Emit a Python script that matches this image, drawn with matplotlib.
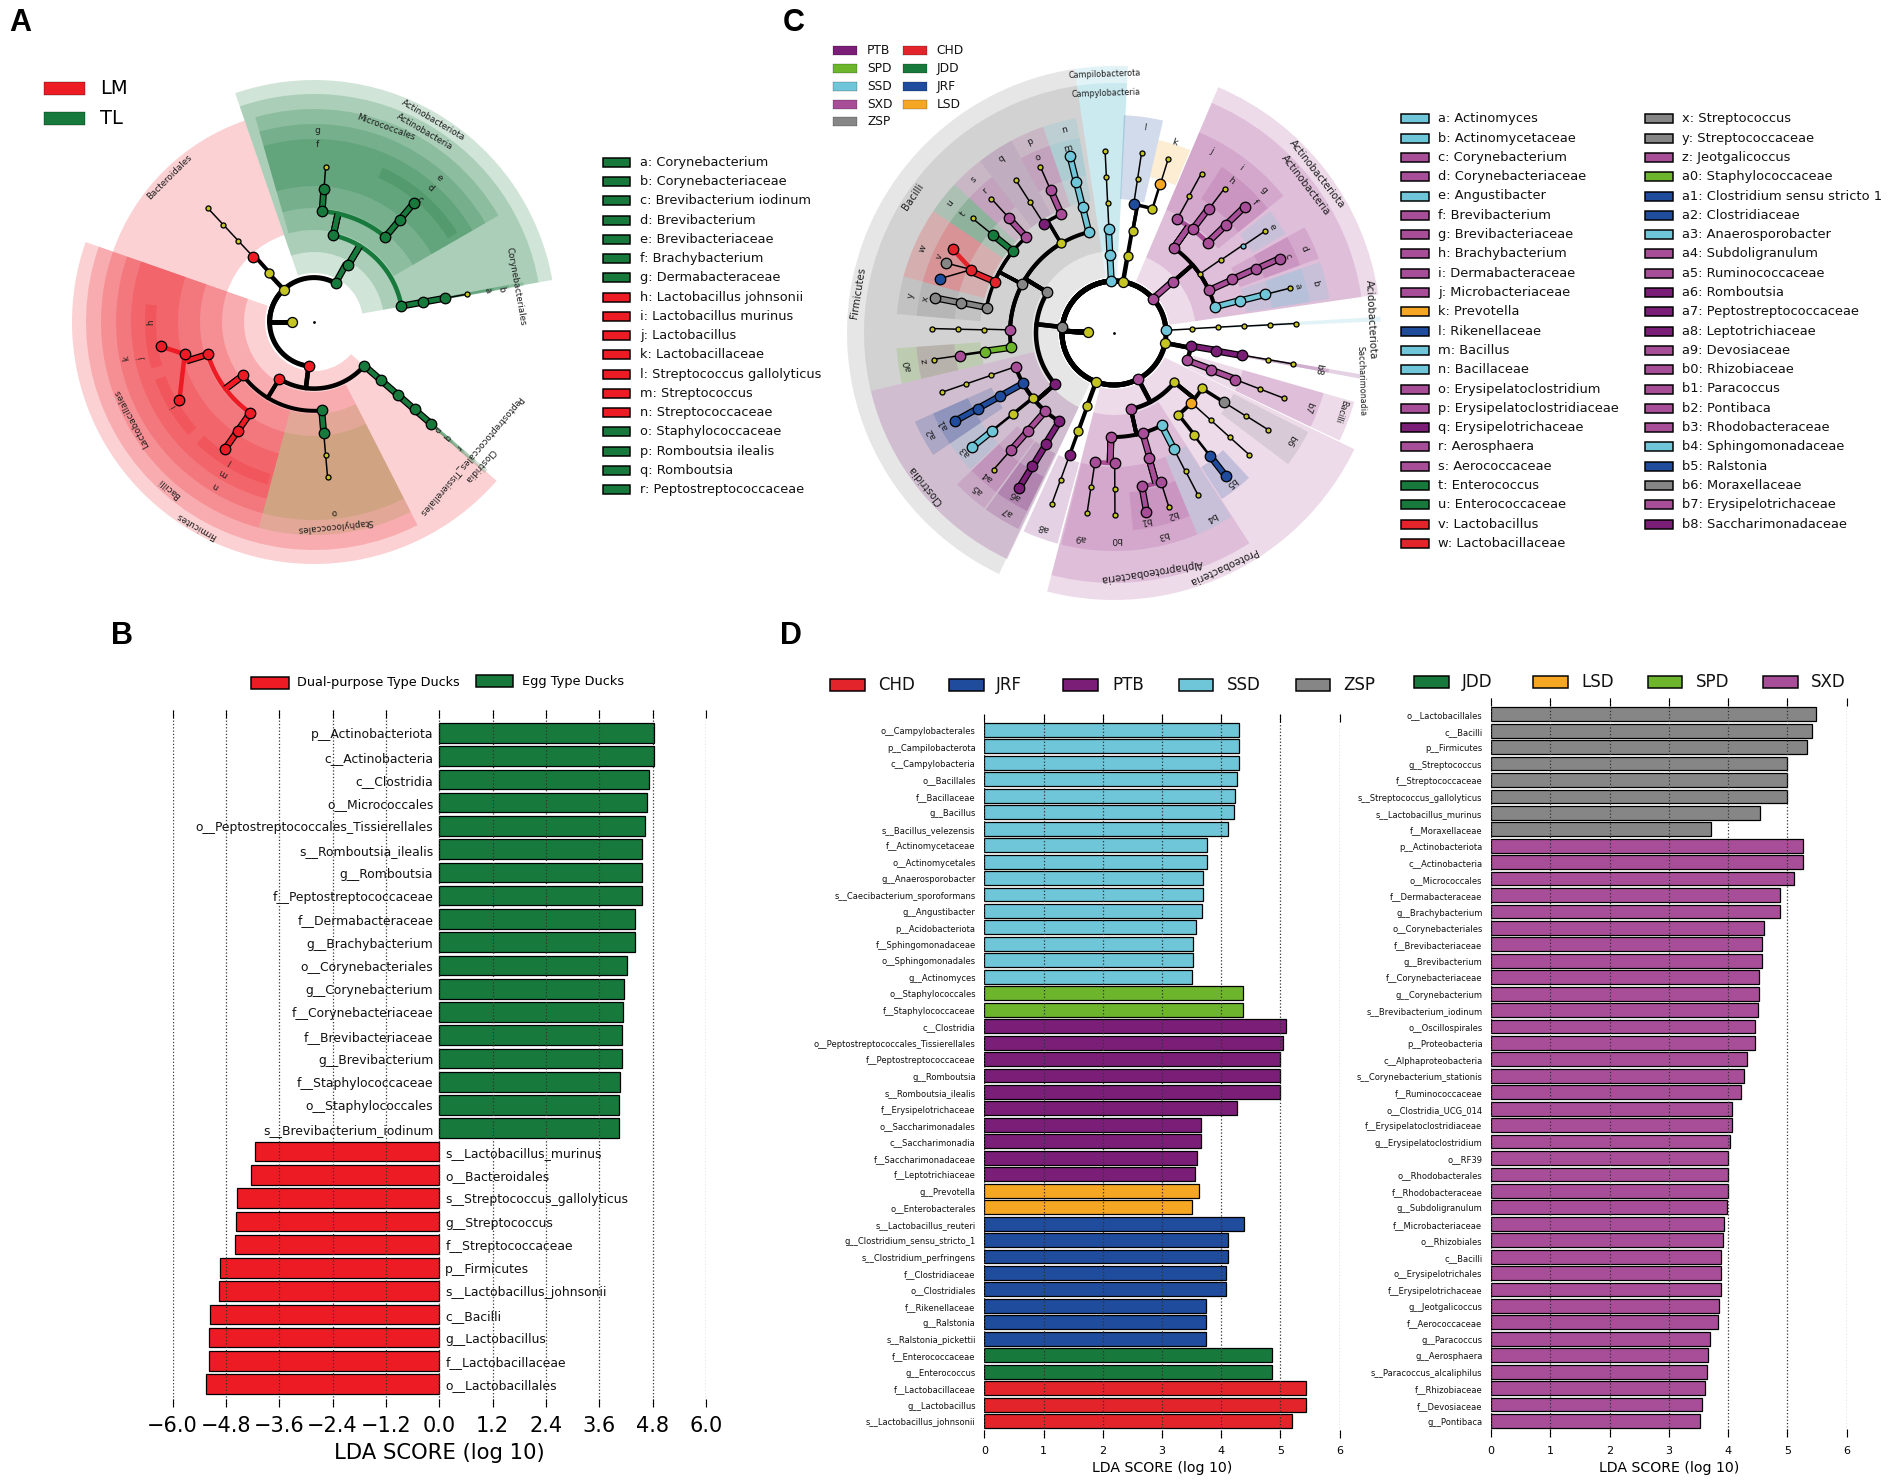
## Functions ##
import numpy as np
import matplotlib
matplotlib.use('Agg')
import matplotlib.pyplot as plt
from matplotlib.patches import Wedge, Rectangle

W, H = 1904, 1483

colors = {'LM': '#ed1c24', 'TL': '#177a3c', 'PTB': '#7b1e78', 'SPD': '#6db52d', 'SSD': '#6fc6d8',
          'SXD': '#a84e98', 'ZSP': '#868686', 'CHD': '#e3242b', 'JDD': '#177a3c', 'JRF': '#1f4c9c',
          'LSD': '#f5a623', 'Y': '#c4c422', 'y': '#c4c422', 'ssd': '#6fc6d8', 'mix': '#8a9636'}

# Panel B
b_names = ['p__Actinobacteriota', 'c__Actinobacteria', 'c__Clostridia', 'o__Micrococcales',
           'o__Peptostreptococcales_Tissierellales', 's__Romboutsia_ilealis', 'g__Romboutsia',
           'f__Peptostreptococcaceae', 'f__Dermabacteraceae', 'g__Brachybacterium', 'o__Corynebacteriales',
           'g__Corynebacterium', 'f__Corynebacteriaceae', 'f__Brevibacteriaceae', 'g__Brevibacterium',
           'f__Staphylococcaceae', 'o__Staphylococcales', 's__Brevibacterium_iodinum',
           's__Lactobacillus_murinus', 'o__Bacteroidales', 's__Streptococcus_gallolyticus', 'g__Streptococcus',
           'f__Streptococcaceae', 'p__Firmicutes', 's__Lactobacillus_johnsonii', 'c__Bacilli', 'g__Lactobacillus',
           'f__Lactobacillaceae', 'o__Lactobacillales']
b_values = [4.84, 4.83, 4.71, 4.67, 4.63, 4.57, 4.57, 4.56, 4.40, 4.40, 4.23, 4.15, 4.14, 4.10, 4.10, 4.06, 4.05,
            4.04, -4.14, -4.24, -4.56, -4.58, -4.59, -4.94, -4.95, -5.16, -5.18, -5.19, -5.24]
b_ticks = [-6.0, -4.8, -3.6, -2.4, -1.2, 0.0, 1.2, 2.4, 3.6, 4.8, 6.0]

# Panel D, left
d1_names = ['o__Campylobacterales', 'p__Campilobacterota', 'c__Campylobacteria', 'o__Bacillales', 'f__Bacillaceae',
            'g__Bacillus', 's__Bacillus_velezensis', 'f__Actinomycetaceae', 'o__Actinomycetales',
            'g__Anaerosporobacter', 's__Caecibacterium_sporoformans', 'g__Angustibacter', 'p__Acidobacteriota',
            'f__Sphingomonadaceae', 'o__Sphingomonadales', 'g__Actinomyces', 'o__Staphylococcales',
            'f__Staphylococcaceae', 'c__Clostridia', 'o__Peptostreptococcales_Tissierellales',
            'f__Peptostreptococcaceae', 'g__Romboutsia', 's__Romboutsia_ilealis', 'f__Erysipelotrichaceae',
            'o__Saccharimonadales', 'c__Saccharimonadia', 'f__Saccharimonadaceae', 'f__Leptotrichiaceae',
            'g__Prevotella', 'o__Enterobacterales', 's__Lactobacillus_reuteri', 'g__Clostridium_sensu_stricto_1',
            's__Clostridium_perfringens', 'f__Clostridiaceae', 'o__Clostridiales', 'f__Rikenellaceae', 'g__Ralstonia',
            's__Ralstonia_pickettii', 'f__Enterococcaceae', 'g__Enterococcus', 'f__Lactobacillaceae',
            'g__Lactobacillus', 's__Lactobacillus_johnsonii']
d1_values = [4.30, 4.30, 4.30, 4.27, 4.23, 4.22, 4.11, 3.76, 3.76, 3.70, 3.70, 3.68, 3.58, 3.53, 3.53, 3.50,
             4.37, 4.37, 5.10, 5.04, 5.00, 4.99, 4.99, 4.27, 3.66, 3.66, 3.60, 3.55, 3.63, 3.51,
             4.39, 4.12, 4.12, 4.09, 4.09, 3.75, 3.75, 3.75, 4.86, 4.86, 5.44, 5.44, 5.20]
d1_groups = ['SSD'] * 16 + ['SPD'] * 2 + ['PTB'] * 10 + ['LSD'] * 2 + ['JRF'] * 8 + ['JDD'] * 2 + ['CHD'] * 3

# Panel D, right
d2_names = ['o__Lactobacillales', 'c__Bacilli', 'p__Firmicutes', 'g__Streptococcus', 'f__Streptococcaceae',
            's__Streptococcus_gallolyticus', 's__Lactobacillus_murinus', 'f__Moraxellaceae', 'p__Actinobacteriota',
            'c__Actinobacteria', 'o__Micrococcales', 'f__Dermabacteraceae', 'g__Brachybacterium',
            'o__Corynebacteriales', 'f__Brevibacteriaceae', 'g__Brevibacterium', 'f__Corynebacteriaceae',
            'g__Corynebacterium', 's__Brevibacterium_iodinum', 'o__Oscillospirales', 'p__Proteobacteria',
            'c__Alphaproteobacteria', 's__Corynebacterium_stationis', 'f__Ruminococcaceae', 'o__Clostridia_UCG_014',
            'f__Erysipelatoclostridiaceae', 'g__Erysipelatoclostridium', 'o__RF39', 'o__Rhodobacterales',
            'f__Rhodobacteraceae', 'g__Subdoligranulum', 'f__Microbacteriaceae', 'o__Rhizobiales', 'c__Bacilli',
            'o__Erysipelotrichales', 'f__Erysipelotrichaceae', 'g__Jeotgalicoccus', 'f__Aerococcaceae',
            'g__Paracoccus', 'g__Aerosphaera', 's__Paracoccus_alcaliphilus', 'f__Rhizobiaceae', 'f__Devosiaceae',
            'g__Pontibaca']
d2_values = [5.49, 5.42, 5.33, 5.00, 5.00, 4.99, 4.54, 3.72, 5.26, 5.26, 5.12, 4.88, 4.87, 4.60, 4.58, 4.58, 4.53,
             4.53, 4.50, 4.46, 4.45, 4.32, 4.27, 4.22, 4.07, 4.06, 4.04, 4.00, 4.00, 4.00, 3.99, 3.94, 3.91, 3.89,
             3.89, 3.89, 3.84, 3.83, 3.70, 3.67, 3.65, 3.61, 3.56, 3.53]
d2_groups = ['ZSP'] * 8 + ['SXD'] * 36

# Panel A tree: id, parent, level, angle, group
tree_a = [('k', '', 1, 180, 'Y'),
          ('a2', 'k', 2, 61, 'TL'), ('a3', 'a2', 3, 59, 'TL'),
          ('cor4', 'a3', 4, 10.3, 'TL'), ('cor5', 'cor4', 5, 10.3, 'TL'), ('cor6', 'cor5', 6, 10.3, 'TL'),
          ('cor7', 'cor6', 7, 10.3, 'y'),
          ('mic4', 'a3', 4, 77.5, 'TL'), ('der5', 'mic4', 5, 85.8, 'TL'), ('der6', 'der5', 6, 85.7, 'TL'),
          ('der7', 'der6', 7, 85.7, 'y'), ('bre5', 'mic4', 5, 50, 'TL'), ('bre6', 'bre5', 6, 50, 'TL'),
          ('bre7', 'bre6', 7, 50, 'TL'),
          ('bd2', 'k', 2, 133, 'Y'), ('bd3', 'bd2', 3, 132, 'Y'), ('bd4', 'bd3', 4, 133, 'LM'),
          ('bd5', 'bd4', 5, 133, 'y'), ('bd6', 'bd5', 6, 133, 'y'), ('bd7', 'bd6', 7, 133, 'y'),
          ('fi2', 'k', 2, 263, 'LM'), ('ba3', 'fi2', 3, 238.6, 'LM'), ('la4', 'ba3', 4, 217, 'LM'),
          ('lc5', 'la4', 5, 197, 'LM'), ('lc6', 'lc5', 6, 194, 'LM'), ('lj7', 'lc6', 7, 189, 'LM'),
          ('lm7', 'lc6', 7, 210, 'LM'),
          ('st5', 'la4', 5, 235, 'LM'), ('st6', 'st5', 6, 235, 'LM'), ('st7', 'st6', 7, 235, 'LM'),
          ('sa4', 'ba3', 4, 275, 'TL'), ('sa5', 'sa4', 5, 275, 'TL'), ('sa6', 'sa5', 6, 275, 'y'),
          ('sa7', 'sa6', 7, 275, 'y'),
          ('cl3', 'fi2', 3, 319, 'TL'), ('pe4', 'cl3', 4, 319, 'TL'), ('pe5', 'pe4', 5, 319, 'TL'),
          ('ro6', 'pe5', 6, 319, 'TL'), ('ro7', 'ro6', 7, 319, 'TL')]
black_a = ['ba3', 'la4']

# rank, from angle, to angle, group
bands_a = [('p', 160.7, 319, 'LM'), ('c', 160.7, 297, 'LM'), ('o', 160.7, 255, 'LM'), ('f', 160.7, 225, 'LM'),
           ('f', 225, 255, 'LM'), ('g', 160.7, 225, 'LM'), ('g', 225, 255, 'LM'), ('s', 174, 196, 'LM'),
           ('s', 200, 222, 'LM'), ('s', 226, 254, 'LM'), ('o', 109, 160.7, 'LM'),
           ('o', 255, 297, 'mix'), ('f', 255, 297, 'mix'),
           ('p', 10, 109, 'TL'), ('c', 10, 109, 'TL'), ('o', 30, 106, 'TL'), ('f', 30, 68, 'TL'), ('f', 68, 106, 'TL'),
           ('g', 30, 68, 'TL'), ('g', 68, 106, 'TL'), ('s', 32, 66, 'TL'),
           ('c', 318.5, 319.5, 'TL'), ('o', 318.5, 319.5, 'TL'), ('f', 318.5, 319.5, 'TL'), ('g', 318.5, 319.5, 'TL'),
           ('o', 9.8, 10.8, 'TL'), ('f', 9.8, 10.8, 'TL'), ('g', 9.8, 10.8, 'TL')]

# text, radius, angle
labels_a = [('Actinobacteriota', 234, 59.4), ('Actinobacteria', 220, 59.7), ('Micrococcales', 207, 69.8),
            ('Corynebacteriales', 205, 10), ('Bacteroidales', 205, 135), ('Firmicutes', 235, 240), ('Bacilli', 220, 229),
            ('Lactobacillales', 206, 208), ('Staphylococcales', 205, 276), ('Clostridia', 219, 319),
            ('Peptostreptococcales_Tissierellales', 206, 319.5)]
letters_a = [('g', 191, 89), ('f', 177, 89), ('e', 191, 49), ('d', 177, 49), ('c', 162, 49), ('b', 190, 10), ('a', 176, 10.5),
             ('h', 163, 180), ('i', 164, 211), ('j', 176, 192), ('k', 191, 191), ('l', 163, 239), ('m', 176, 239),
             ('n', 191, 239), ('o', 191, 276), ('p', 163, 319), ('q', 176, 319), ('r', 191, 319)]

legend_a = ['a: Corynebacterium', 'b: Corynebacteriaceae', 'c: Brevibacterium iodinum', 'd: Brevibacterium',
            'e: Brevibacteriaceae', 'f: Brachybacterium', 'g: Dermabacteraceae', 'h: Lactobacillus johnsonii',
            'i: Lactobacillus murinus', 'j: Lactobacillus', 'k: Lactobacillaceae', 'l: Streptococcus gallolyticus',
            'm: Streptococcus', 'n: Streptococcaceae', 'o: Staphylococcaceae', 'p: Romboutsia ilealis', 'q: Romboutsia',
            'r: Peptostreptococcaceae']
legend_a_groups = ['TL'] * 7 + ['LM'] * 7 + ['TL'] * 4

# Panel C tree
tree_c = [('k', '', 1, 178, 'Y'),
          ('fi2', 'k', 2, 173.5, 'ZSP'), ('ba3', 'fi2', 3, 148.6, 'ZSP'), ('cl3', 'fi2', 3, 221, 'PTB'),
          ('b4a', 'ba3', 4, 178.3, 'SXD'), ('b4b', 'ba3', 4, 152, 'ZSP'), ('b4c', 'ba3', 4, 120.6, 'Y'),
          ('b4d', 'ba3', 4, 104, 'SSD'), ('b4e', 'ba3', 4, 188, 'SPD'),
          ('b5a', 'b4a', 5, 178.6, 'y'), ('b6a', 'b5a', 6, 178.6, 'y'), ('b7a', 'b6a', 7, 178.6, 'y'),
          ('b5e', 'b4e', 5, 188.2, 'SPD'), ('b6e', 'b5e', 6, 188.3, 'SXD'), ('b7e', 'b6e', 7, 188.4, 'y'),
          ('b5d', 'b4d', 5, 104, 'SSD'), ('b6d', 'b5d', 6, 104, 'SSD'), ('b7d', 'b6d', 7, 104, 'SSD'),
          ('c5a', 'b4c', 5, 122.7, 'PTB'), ('c5b', 'b4c', 5, 113.9, 'SXD'),
          ('c6a', 'c5a', 6, 122.7, 'y'), ('c7a', 'c6a', 7, 122.6, 'y'),
          ('c6b', 'c5b', 6, 113.9, 'SXD'), ('c7b', 'c6b', 7, 114, 'y'),
          ('l5a', 'b4b', 5, 132.5, 'SXD'), ('l6a', 'l5a', 6, 132.4, 'SXD'), ('l7a', 'l6a', 7, 132.5, 'y'),
          ('l5b', 'b4b', 5, 141, 'JDD'), ('l6b', 'l5b', 6, 141, 'JDD'), ('l7b', 'l6b', 7, 141, 'y'),
          ('l5c', 'b4b', 5, 156.7, 'CHD'), ('l6c', 'l5c', 6, 156, 'CHD'), ('l7c', 'l6c', 7, 152.5, 'CHD'),
          ('l7d', 'l6c', 7, 157.4, 'ZSP'), ('l7e', 'l6c', 7, 162.6, 'JRF'),
          ('l5f', 'b4b', 5, 168.7, 'ZSP'), ('l6f', 'l5f', 6, 168.9, 'ZSP'), ('l7f', 'l6f', 7, 168.8, 'ZSP'),
          ('o4a', 'cl3', 4, 198.9, 'SXD'), ('o5a', 'o4a', 5, 199, 'y'), ('o6a', 'o5a', 6, 199, 'y'), ('o7a', 'o6a', 7, 199, 'y'),
          ('o4b', 'cl3', 4, 209, 'JRF'), ('o5b', 'o4b', 5, 209, 'JRF'), ('o6b', 'o5b', 6, 209, 'JRF'), ('o7b', 'o6b', 7, 209, 'JRF'),
          ('o4c', 'cl3', 4, 218.7, 'Y'), ('o5c', 'o4c', 5, 218.7, 'Y'), ('o6c', 'o5c', 6, 218.8, 'SSD'), ('o7c', 'o6c', 7, 218.8, 'SSD'),
          ('o4d', 'cl3', 4, 228.7, 'SXD'), ('o5d', 'o4d', 5, 228.7, 'SXD'), ('o6d', 'o5d', 6, 228.6, 'SXD'), ('o7d', 'o6d', 7, 228.6, 'y'),
          ('o4e', 'cl3', 4, 238.3, 'PTB'), ('o5e', 'o4e', 5, 238.6, 'PTB'), ('o6e', 'o5e', 6, 238.5, 'PTB'), ('o7e', 'o6e', 7, 238.4, 'PTB'),
          ('cm2', 'k', 2, 93, 'SSD'), ('cm3', 'cm2', 3, 93, 'SSD'), ('cm4', 'cm3', 4, 92.8, 'SSD'), ('cm5', 'cm4', 5, 92.8, 'y'),
          ('cm6', 'cm5', 6, 92.8, 'y'), ('cm7', 'cm6', 7, 92.8, 'y'),
          ('bd2', 'k', 2, 80, 'Y'), ('bd3', 'bd2', 3, 80, 'Y'), ('bd4', 'bd3', 4, 79.6, 'Y'),
          ('bd5a', 'bd4', 5, 81.3, 'JRF'), ('bd6a', 'bd5a', 6, 81.3, 'y'), ('bd7a', 'bd6a', 7, 81.3, 'y'),
          ('bd5b', 'bd4', 5, 72.8, 'Y'), ('bd6b', 'bd5b', 6, 72.7, 'LSD'), ('bd7b', 'bd6b', 7, 72.6, 'y'),
          ('ac2', 'k', 2, 41.3, 'SXD'), ('ac3', 'ac2', 3, 41, 'SXD'),
          ('m4', 'ac3', 4, 54.9, 'SXD'), ('m5a', 'm4', 5, 61, 'SXD'), ('m6a', 'm5a', 6, 61.3, 'y'), ('m7a', 'm6a', 7, 61.2, 'y'),
          ('m5b', 'm4', 5, 52.8, 'SXD'), ('m6b', 'm5b', 6, 52.6, 'SXD'), ('m7b', 'm6b', 7, 52.4, 'y'),
          ('m5c', 'm4', 5, 44, 'SXD'), ('m6c', 'm5c', 6, 44, 'SXD'), ('m7c', 'm6c', 7, 43.9, 'SXD'),
          ('g4', 'ac3', 4, 34.5, 'y'), ('g5', 'g4', 5, 34.3, 'y'), ('g6', 'g5', 6, 34, 'ssd'), ('g7', 'g6', 7, 34, 'y'),
          ('co4', 'ac3', 4, 24.2, 'SXD'), ('co5', 'co4', 5, 24.4, 'SXD'), ('co6', 'co5', 6, 24.2, 'SXD'), ('co7', 'co6', 7, 24, 'SXD'),
          ('am4', 'ac3', 4, 14.5, 'SSD'), ('am5', 'am4', 5, 14.3, 'SSD'), ('am6', 'am5', 6, 14.3, 'SSD'), ('am7', 'am6', 7, 14.3, 'y'),
          ('ad2', 'k', 2, 3, 'SSD'), ('ad3', 'ad2', 3, 3.2, 'y'), ('ad4', 'ad3', 4, 3.2, 'y'), ('ad5', 'ad4', 5, 3, 'y'),
          ('ad6', 'ad5', 6, 3, 'y'), ('ad7', 'ad6', 7, 2.7, 'y'),
          ('x2', 'k', 2, 349, 'Y'), ('x3', 'x2', 3, 350.4, 'PTB'), ('x4', 'x3', 4, 350, 'PTB'), ('x5', 'x4', 5, 350.2, 'PTB'),
          ('x6', 'x5', 6, 350.2, 'y'), ('x7', 'x6', 7, 350.2, 'y'),
          ('e3', 'x2', 3, 339.5, 'SXD'), ('e4', 'e3', 4, 339.2, 'SXD'), ('e5', 'e4', 5, 339, 'SXD'), ('e6', 'e5', 6, 339, 'y'), ('e7', 'e6', 7, 339, 'y'),
          ('fu2', 'k', 2, 249.8, 'Y'), ('fu3', 'fu2', 3, 250, 'Y'), ('fu4', 'fu3', 4, 250, 'Y'), ('fu5', 'fu4', 5, 250, 'PTB'),
          ('fu6', 'fu5', 6, 250, 'y'), ('fu7', 'fu6', 7, 250, 'y'),
          ('pr2', 'k', 2, 297.8, 'SXD'), ('pr3', 'pr2', 3, 282.5, 'SXD'), ('pq3', 'pr2', 3, 320.8, 'Y'),
          ('q4a', 'pq3', 4, 327.8, 'Y'), ('q5a', 'q4a', 5, 327.8, 'ZSP'), ('q6a', 'q5a', 6, 327.9, 'y'), ('q7a', 'q6a', 7, 327.9, 'y'),
          ('q4b', 'pq3', 4, 318, 'LSD'), ('q5b', 'q4b', 5, 318, 'y'), ('q6b', 'q5b', 6, 318, 'y'), ('q7b', 'q6b', 7, 318, 'y'),
          ('q4c', 'pq3', 4, 308.3, 'Y'), ('q5c', 'q4c', 5, 308, 'Y'), ('q6c', 'q5c', 6, 308, 'JRF'), ('q7c', 'q6c', 7, 308, 'JRF'),
          ('r4a', 'pr3', 4, 268.3, 'SXD'), ('r5a', 'r4a', 5, 261.6, 'SXD'), ('r6a', 'r5a', 6, 261.5, 'y'), ('r7a', 'r6a', 7, 261.5, 'y'),
          ('r5b', 'r4a', 5, 270.3, 'SXD'), ('r6b', 'r5b', 6, 270.3, 'y'), ('r7b', 'r6b', 7, 270.3, 'y'),
          ('r4b', 'pr3', 4, 286, 'SXD'), ('r5c', 'r4b', 5, 285.6, 'SXD'), ('r6c', 'r5c', 6, 280.3, 'SXD'), ('r7c', 'r6c', 7, 280.2, 'SXD'),
          ('r6d', 'r5c', 6, 287.5, 'SXD'), ('r7d', 'r6d', 7, 287.5, 'y'),
          ('r4c', 'pr3', 4, 297.3, 'SSD'), ('r5d', 'r4c', 5, 297.3, 'SSD'), ('r6e', 'r5d', 6, 297.4, 'y'), ('r7e', 'r6e', 7, 297.4, 'y')]
black_c = ['ba3', 'cl3', 'b4b', 'b4a', 'l5a', 'l5c', 'l5f', 'o4a', 'o4b', 'o4d', 'o4e', 'm4', 'co4', 'pr3', 'r4a', 'r4b', 'b4d']

bands_c = [('p', 98.5, 244.5, 'ZSP'), ('c', 98.5, 193.4, 'ZSP'), ('c', 193.4, 244.7, 'PTB'),
           ('p', 87, 98.5, 'SSD'), ('c', 87, 98.5, 'SSD'), ('f', 77, 87.4, 'JRF'), ('g', 67.4, 77, 'LSD'),
           ('p', 8.3, 67, 'SXD'), ('c', 8.3, 67, 'SXD'), ('f', 57, 67, 'SXD'), ('f', 48, 57, 'SXD'), ('g', 48, 57, 'SXD'),
           ('f', 39, 48, 'SXD'), ('g', 39, 48, 'SXD'), ('g', 30, 38, 'SSD'), ('f', 20, 29, 'SXD'), ('g', 20, 29, 'SXD'),
           ('f', 9, 19, 'SSD'), ('g', 9, 19, 'SSD'),
           ('f', 100, 109, 'SSD'), ('g', 100, 109, 'SSD'), ('f', 109, 118, 'SXD'), ('g', 109, 118, 'SXD'), ('f', 118, 128, 'PTB'),
           ('f', 128, 137, 'SXD'), ('g', 128, 137, 'SXD'), ('f', 137, 146, 'JDD'), ('g', 137, 146, 'JDD'),
           ('f', 146, 165, 'CHD'), ('g', 146, 165, 'CHD'), ('f', 165, 175, 'ZSP'), ('g', 165, 175, 'ZSP'),
           ('f', 184, 193.4, 'SPD'), ('g', 184, 193.4, 'SXD'),
           ('f', 204, 214, 'JRF'), ('g', 204, 214, 'JRF'), ('g', 214, 223.5, 'SSD'), ('f', 224, 233.5, 'SXD'), ('g', 224, 233.5, 'SXD'),
           ('f', 234, 244, 'PTB'), ('g', 234, 244, 'PTB'), ('f', 245.5, 255, 'PTB'),
           ('p', 255.5, 334.2, 'SXD'), ('c', 255.5, 302.8, 'SXD'), ('f', 256, 265.5, 'SXD'), ('f', 265.5, 275.5, 'SXD'),
           ('f', 275.5, 292.5, 'SXD'), ('g', 275.5, 283.5, 'SXD'), ('g', 283.5, 292.5, 'SXD'), ('f', 292.5, 302.5, 'SSD'),
           ('g', 303, 313, 'JRF'), ('f', 323, 333, 'ZSP'), ('f', 334.5, 344, 'SXD'), ('c', 334.5, 344, 'SXD'),
           ('c', 349.5, 350.5, 'PTB'), ('f', 349.5, 350.5, 'PTB'), ('p', 2.5, 3.5, 'SSD')]

labels_c = [('Actinobacteriota', 258, 38), ('Actinobacteria', 242, 37.6), ('Acidobacteriota', 257, 2.9),
            ('Bacilli', 243, 146), ('Firmicutes', 259, 171), ('Clostridia', 241.5, 219),
            ('Alphaproteobacteria', 241, 279), ('Proteobacteria', 258, 295)]
small_labels_c = [('Campilobacterota', 259, 92), ('Campylobacteria', 240, 92), ('Saccharimonadia', 252, 349), ('Bacilli', 240, 341)]
letters_c = [('a', 190, 14.3), ('b', 207, 13.9), ('c', 190, 23.9), ('d', 208, 24), ('e', 190, 33.8), ('f', 192, 43), ('g', 207, 43.5),
             ('h', 192, 52.6), ('i', 208, 52.6), ('j', 207, 62), ('k', 200, 72.5), ('l', 208, 81.5), ('m', 190, 104), ('n', 209, 103.7),
             ('o', 191, 113.5), ('p', 209, 113.8), ('q', 208, 122.8), ('r', 192, 132.3), ('s', 208, 132.3), ('t', 192, 141.8),
             ('u', 209, 141.7), ('v', 190.6, 156.4), ('w', 209, 156.2), ('x', 191, 169.7), ('y', 207, 169.5), ('z', 191, 188.3),
             ('a0', 208, 189), ('a1', 193, 208.3), ('a2', 208, 208.9), ('a3', 190, 218.4), ('a4', 191, 228.5), ('a5', 207, 228.9),
             ('a6', 190, 238.8), ('a7', 208, 239), ('a8', 207, 250), ('a9', 207, 260.7), ('b0', 207, 270.5), ('b1', 190, 279.6),
             ('b2', 190, 288), ('b3', 207.6, 283.8), ('b4', 208, 297.7), ('b5', 190, 307.9), ('b6', 206, 328.6), ('b7', 208, 339.2),
             ('b8', 208, 350)]

legend_c1 = ['a: Actinomyces', 'b: Actinomycetaceae', 'c: Corynebacterium', 'd: Corynebacteriaceae', 'e: Angustibacter',
             'f: Brevibacterium', 'g: Brevibacteriaceae', 'h: Brachybacterium', 'i: Dermabacteraceae', 'j: Microbacteriaceae',
             'k: Prevotella', 'l: Rikenellaceae', 'm: Bacillus', 'n: Bacillaceae', 'o: Erysipelatoclostridium',
             'p: Erysipelatoclostridiaceae', 'q: Erysipelotrichaceae', 'r: Aerosphaera', 's: Aerococcaceae', 't: Enterococcus',
             'u: Enterococcaceae', 'v: Lactobacillus', 'w: Lactobacillaceae']
legend_c1_groups = ['SSD', 'SSD', 'SXD', 'SXD', 'SSD', 'SXD', 'SXD', 'SXD', 'SXD', 'SXD', 'LSD', 'JRF', 'SSD', 'SSD', 'SXD', 'SXD',
                    'PTB', 'SXD', 'SXD', 'JDD', 'JDD', 'CHD', 'CHD']
legend_c2 = ['x: Streptococcus', 'y: Streptococcaceae', 'z: Jeotgalicoccus', 'a0: Staphylococcaceae', 'a1: Clostridium sensu stricto 1',
             'a2: Clostridiaceae', 'a3: Anaerosporobacter', 'a4: Subdoligranulum', 'a5: Ruminococcaceae', 'a6: Romboutsia',
             'a7: Peptostreptococcaceae', 'a8: Leptotrichiaceae', 'a9: Devosiaceae', 'b0: Rhizobiaceae', 'b1: Paracoccus', 'b2: Pontibaca',
             'b3: Rhodobacteraceae', 'b4: Sphingomonadaceae', 'b5: Ralstonia', 'b6: Moraxellaceae', 'b7: Erysipelotrichaceae',
             'b8: Saccharimonadaceae']
legend_c2_groups = ['ZSP', 'ZSP', 'SXD', 'SPD', 'JRF', 'JRF', 'SSD', 'SXD', 'SXD', 'PTB', 'PTB', 'PTB', 'SXD', 'SXD', 'SXD', 'SXD',
                    'SXD', 'SSD', 'JRF', 'ZSP', 'SXD', 'PTB']


def pts(px):
    # pixels to points at dpi 100
    return px * 0.72


def polar(center, r, angle):
    a = np.deg2rad(angle)
    return center[0] + r * np.cos(a), center[1] + r * np.sin(a)


def draw_text_ring(ax, center, items, size):
    for text, r, angle in items:
        x, y = polar(center, r, angle)
        # this one runs almost straight down in the original
        rotation = 272 if text == 'Saccharimonadia' else (angle - 90) % 360
        ax.text(x, y, text, rotation=rotation, rotation_mode='anchor', ha='center', va='center',
                fontsize=size, color='#1c1c1c', zorder=6)


def draw_clade(ax, center, unit, tree, black, bands, band_radii, full_ring):
    for rank, t1, t2, group in bands:
        r0, r1 = band_radii[rank]
        ax.add_patch(Wedge(center, r1, t1, t2, width=r1 - r0, fc=colors[group], alpha=0.2, lw=0, zorder=1))

    nodes = {row[0]: row for row in tree}
    black_width = {2: 5, 3: 4.5, 4: 4, 5: 3.5, 6: 2.5, 7: 1.5}

    for node, parent, level, angle, group in tree:
        if parent == '':
            continue
        p = nodes[parent]
        r, pr = level * unit, p[2] * unit
        coloured = group == p[4] and group not in ('Y', 'y') and node not in black
        thin = group in ('y', 'ssd')
        if thin:
            c, lw, z = 'black', 1.5, 2
        elif coloured:
            c, lw, z = colors[group], 4.5, 3
        else:
            c, lw, z = 'black', black_width[level], 2

        if level == 7 and abs(angle - p[3]) > 1:
            # leaves fan out with a straight branch
            x0, y0 = polar(center, pr, p[3])
            x1, y1 = polar(center, r, angle)
            ax.plot([x0, x1], [y0, y1], color=c, lw=pts(lw), solid_capstyle='round', zorder=z)
            continue

        x0, y0 = polar(center, pr, p[3])
        x1, y1 = polar(center, r, p[3])
        if coloured:
            ax.plot([x0, x1], [y0, y1], color='black', lw=pts(lw + 2.5), solid_capstyle='butt', zorder=z)
        ax.plot([x0, x1], [y0, y1], color=c, lw=pts(lw), solid_capstyle='butt', zorder=z + 0.1)
        if abs(angle - p[3]) > 0.5:
            ts = np.linspace(p[3], angle, 40)
            xs, ys = polar(center, r, ts)
            ax.plot(xs, ys, color=c, lw=pts(lw), solid_capstyle='round', zorder=z)

    # whole ring of the phyla
    if full_ring:
        ts = np.linspace(0, 360, 200)
        xs, ys = polar(center, 2 * unit, ts)
        ax.plot(xs, ys, color='black', lw=pts(5), zorder=2)

    for node, parent, level, angle, group in tree:
        x, y = polar(center, level * unit, angle)
        if group in ('y', 'ssd'):
            d = 5
        elif group == 'Y':
            d = 10 if level < 3 else 9
        else:
            d = 10.5
        ax.scatter([x], [y], s=pts(d) ** 2, color=colors[group], edgecolors='black', linewidths=pts(1.3), zorder=5)
    ax.scatter([center[0]], [center[1]], s=1, color='black', zorder=5)


def swatch(ax, x0, x1, py, h, group, lw=1.5):
    ax.add_patch(Rectangle((x0, H - py - h / 2), x1 - x0, h, fc=colors[group], ec='black', lw=pts(lw), zorder=4))


def px_axes(x0, x1, top, bottom):
    return fig.add_axes([x0 / W, (H - bottom) / H, (x1 - x0) / W, (bottom - top) / H])


def bar_panel(x0, x1, top, bottom, names, values, groups, xlim, ticks, tick_labels, label_size, tick_size, xlabel_size, gap, labelpad, drop):
    ax = px_axes(x0, x1, top, bottom)
    n = len(names)
    pos = np.arange(n)
    ax.barh(pos, values, height=0.84, color=[colors[g] for g in groups], edgecolor='black', linewidth=0.9)
    for i, (name, v) in enumerate(zip(names, values)):
        if v >= 0:
            ax.text(-gap, i + drop, name, ha='right', va='center', fontsize=label_size, color='#111111')
        else:
            ax.text(gap, i + drop, name, ha='left', va='center', fontsize=label_size, color='#111111')
    ax.set_xlim(*xlim)
    ax.set_ylim(n, -1)
    ax.set_yticks([])
    ax.set_xticks(ticks)
    ax.set_xticklabels(tick_labels, fontsize=tick_size)
    ax.tick_params(axis='x', direction='in', top=True, bottom=True, length=6, width=0.8, pad=6)
    ax.grid(axis='x', linestyle=':', color='#333333', linewidth=0.9)
    ax.set_axisbelow(False)
    for s in ax.spines.values():
        s.set_visible(False)
    ax.patch.set_alpha(0)
    ax.set_xlabel('LDA SCORE (log 10)', fontsize=xlabel_size, labelpad=labelpad)
    return ax


## Plot ##
fig = plt.figure(figsize=(W / 100, H / 100), dpi=100, facecolor='white')

# Overlay in pixel units for the cladograms and the legends
bg = fig.add_axes([0, 0, 1, 1])
bg.set_xlim(0, W)
bg.set_ylim(0, H)
bg.axis('off')

# Panel letters
for letter, x, y in [('A', 20, 23), ('C', 794, 23), ('B', 122, 636), ('D', 791, 636)]:
    bg.text(x, H - y, letter, fontsize=22, fontweight='bold', family='Liberation Sans', ha='center', va='center')

# Panel A
center_a = (314, H - 322)
draw_clade(bg, center_a, 22.2, tree_a, black_a, bands_a,
           {'p': (49, 242), 'c': (70, 228), 'o': (92, 213), 'f': (114, 198), 'g': (136, 183), 's': (158, 169)}, False)
draw_text_ring(bg, center_a, labels_a + letters_a, 6.3)

# Panel C
center_c = (1114, H - 333)
draw_clade(bg, center_c, 26, tree_c, black_c, bands_c,
           {'p': (56, 267), 'c': (82, 250), 'f': (134, 218), 'g': (160, 198)}, True)
draw_text_ring(bg, center_c, labels_c, 7.3)
draw_text_ring(bg, center_c, small_labels_c, 5.8)
draw_text_ring(bg, center_c, letters_c, 6.6)

# Legends of A
for name, py, group in [('LM', 88.5, 'LM'), ('TL', 118, 'TL')]:
    swatch(bg, 44, 85, py, 13, group, lw=0.3)
    bg.text(100, H - py, name, fontsize=14, va='center')
for i, (name, group) in enumerate(zip(legend_a, legend_a_groups)):
    py = 162.5 + i * 19.24
    swatch(bg, 603, 630, py, 9, group)
    bg.text(640, H - py, name, fontsize=9.3, va='center', color='#111111')

# Legends of C
c_top = [('PTB', 0, 0), ('SPD', 0, 1), ('SSD', 0, 2), ('SXD', 0, 3), ('ZSP', 0, 4), ('CHD', 1, 0), ('JDD', 1, 1), ('JRF', 1, 2), ('LSD', 1, 3)]
for name, col, row in c_top:
    py = 50.6 + row * 17.8
    x = 833 + col * 69.5
    swatch(bg, x, x + 24, py, 9, name, lw=0.2)
    bg.text(x + 34, H - py, name, fontsize=8.8, va='center', color='#111111')
for x0, names, groups in [(1401, legend_c1, legend_c1_groups), (1645, legend_c2, legend_c2_groups)]:
    for i, (name, group) in enumerate(zip(names, groups)):
        py = 118.8 + i * 19.3
        swatch(bg, x0, x0 + 28, py, 9, group)
        bg.text(x0 + 37, H - py, name, fontsize=9.4, va='center', color='#111111')

# Panel B
b_groups = ['TL' if v > 0 else 'LM' for v in b_values]
b_tick_labels = [f'{t:.1f}'.replace('-', '\u2212') for t in b_ticks]
bar_panel(172.6, 706, 709.7, 1407.3, b_names, b_values, b_groups, (-6, 6), b_ticks, b_tick_labels, 8.9, 15, 15.2, 0.135, 5.5, 0.08)
swatch(bg, 251, 288.6, 682.5, 12, 'LM')
bg.text(297, H - 682.5, 'Dual-purpose Type Ducks', fontsize=9.2, va='center')
swatch(bg, 476, 513, 681, 12, 'TL')
bg.text(522, H - 681, 'Egg Type Ducks', fontsize=9.3, va='center')

# Panel D
d_ticks = [0, 1, 2, 3, 4, 5, 6]
d_tick_labels = [str(t) for t in d_ticks]
bar_panel(984.3, 1339.6, 713.5, 1437.5, d1_names, d1_values, d1_groups, (0, 6), d_ticks, d_tick_labels, 6.0, 8, 10.2, 0.145, 3.5, 0.1)
bar_panel(1491, 1846.5, 697.8, 1437.4, d2_names, d2_values, d2_groups, (0, 6), d_ticks, d_tick_labels, 6.0, 8, 10.2, 0.145, 3.5, 0.1)
for name, x0, x1, tx, py in [('CHD', 830, 865, 878, 685), ('JRF', 948.6, 983.6, 996, 685), ('PTB', 1063, 1098, 1112, 685),
                             ('SSD', 1178.6, 1213, 1227, 685), ('ZSP', 1295.7, 1330, 1343.6, 685),
                             ('JDD', 1413.7, 1449, 1462, 682), ('LSD', 1533, 1567.7, 1581.7, 682),
                             ('SPD', 1648, 1682, 1696, 682), ('SXD', 1763, 1797.5, 1811, 682)]:
    swatch(bg, x0, x1, py, 12, name)
    bg.text(tx, H - py, name, fontsize=12, va='center', color='#111111')

fig.savefig('out.png', dpi=100)
